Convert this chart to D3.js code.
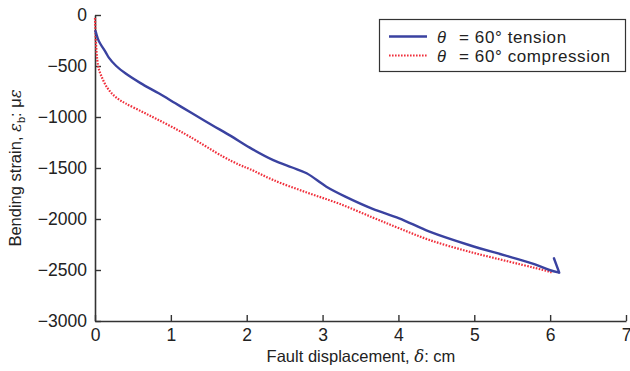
<!DOCTYPE html>
<html>
<head>
<meta charset="utf-8">
<script src="https://cdn.jsdelivr.net/npm/d3@7"></script>
<style>
  html, body { margin: 0; padding: 0; background: #fff; }
  svg { display: block; }
  text { font-family: "Liberation Sans", Arial, sans-serif; fill: #222; }
</style>
</head>
<body>
<svg id="chart" width="630" height="371"></svg>
<script>
// Fault displacement (cm) vs bending strain (microstrain)
const tensionX = [0, 0.01, 0.05, 0.14, 0.18, 0.28, 0.4, 0.6, 0.84, 1.06, 1.28, 1.54, 1.8, 2.04, 2.35, 2.6, 2.79, 3.05, 3.3, 3.66, 4.01, 4.41, 4.93, 5.46, 5.8, 5.99, 6.12, 6.05];
const tensionY = [-150, -167, -255, -363, -415, -500, -572, -668, -768, -866, -964, -1078, -1190, -1300, -1422, -1495, -1552, -1683, -1780, -1900, -1993, -2124, -2255, -2369, -2445, -2500, -2526, -2385];

const compressionX = [0, 0.005, 0.015, 0.03, 0.05, 0.09, 0.15, 0.22, 0.3, 0.4, 0.62, 0.8, 1.01, 1.25, 1.69, 1.91, 2.04, 2.35, 2.79, 3.22, 3.66, 4.01, 4.41, 4.93, 5.46, 5.8, 5.99, 6.02];
const compressionY = [-30, -150, -300, -441, -530, -610, -700, -768, -820, -866, -948, -1015, -1095, -1193, -1389, -1471, -1510, -1618, -1740, -1850, -1985, -2091, -2206, -2320, -2418, -2480, -2516, -2525];

const xTicks = [0, 1, 2, 3, 4, 5, 6, 7];
const yTicks = [0, -500, -1000, -1500, -2000, -2500, -3000];

const svg = d3.select("#chart");
const plotLeft = 95, plotRight = 626, plotTop = 15, plotBottom = 321;

const x = d3.scaleLinear().domain([0, 7]).range([plotLeft, plotRight]);
const y = d3.scaleLinear().domain([-3000, 0]).range([plotBottom, plotTop]);

const axisColor = "#333";
const tickFont = 17.5;

// x axis with inward ticks
const gx = svg.append("g").attr("transform", `translate(0,${plotBottom})`)
  .call(d3.axisBottom(x).tickValues(xTicks).tickSizeInner(-6).tickSizeOuter(0).tickPadding(8).tickFormat(d3.format("d")));
gx.select(".domain").attr("stroke", axisColor).attr("stroke-width", 1.6);
gx.selectAll(".tick line").attr("stroke", axisColor).attr("stroke-width", 1.4);
gx.selectAll(".tick text").attr("font-size", tickFont).attr("font-family", "Liberation Sans, Arial, sans-serif").attr("fill", "#222");

// y axis with inward ticks
const gy = svg.append("g").attr("transform", `translate(${plotLeft},0)`)
  .call(d3.axisLeft(y).tickValues(yTicks).tickSizeInner(-6).tickSizeOuter(0).tickPadding(8)
    .tickFormat(d => d < 0 ? "\u2212" + Math.abs(d) : String(d)));
gy.select(".domain").attr("stroke", axisColor).attr("stroke-width", 1.6);
gy.selectAll(".tick line").attr("stroke", axisColor).attr("stroke-width", 1.4);
gy.selectAll(".tick text").attr("font-size", tickFont).attr("font-family", "Liberation Sans, Arial, sans-serif").attr("fill", "#222");

// series
const tension = d3.zip(tensionX, tensionY);
const compression = d3.zip(compressionX, compressionY);
const smooth = d3.line().x(d => x(d[0])).y(d => y(d[1])).curve(d3.curveCatmullRom.alpha(0.5));
const straight = d3.line().x(d => x(d[0])).y(d => y(d[1]));

svg.append("path").datum(compression)
  .attr("d", smooth)
  .attr("fill", "none").attr("stroke", "#f0303c").attr("stroke-width", 2.2)
  .attr("stroke-dasharray", "1.6,1.4");

// tension: smooth loading branch, then the straight unloading hook at the end
const blue = "#3a42a0";
svg.append("path").datum(tension.slice(0, -1))
  .attr("d", smooth)
  .attr("fill", "none").attr("stroke", blue).attr("stroke-width", 2.4)
  .attr("stroke-linejoin", "round");
svg.append("path").datum(tension.slice(-2))
  .attr("d", straight)
  .attr("fill", "none").attr("stroke", blue).attr("stroke-width", 2.4)
  .attr("stroke-linecap", "round");

// axis titles
const xt = svg.append("text").attr("x", 361).attr("y", 362).attr("text-anchor", "middle").attr("font-size", 16.5);
xt.append("tspan").text("Fault displacement, ");
xt.append("tspan").attr("font-family", "DejaVu Serif, serif").attr("font-style", "italic").text("δ");
xt.append("tspan").text(": cm");

const yt = svg.append("text").attr("transform", "translate(21,168) rotate(-90)").attr("text-anchor", "middle").attr("font-size", 16.5);
yt.append("tspan").text("Bending strain, ");
yt.append("tspan").attr("font-family", "DejaVu Serif, serif").attr("font-style", "italic").text("ε");
yt.append("tspan").attr("font-size", 11).attr("dy", 4).text("b");
yt.append("tspan").attr("dy", -4).text(": μ");
yt.append("tspan").attr("font-family", "DejaVu Serif, serif").attr("font-style", "italic").text("ε");

// legend
const lg = svg.append("g");
lg.append("rect").attr("x", 379.5).attr("y", 19.5).attr("width", 246).attr("height", 52)
  .attr("fill", "#fff").attr("stroke", "#333").attr("stroke-width", 1.2);
const legendItems = [
  { label: "tension", color: blue, dash: null, width: 2.4 },
  { label: "compression", color: "#f0303c", dash: "1.6,1.4", width: 2.2 }
];
legendItems.forEach((it, i) => {
  const cy = 36.5 + i * 19;
  lg.append("line").attr("x1", 389).attr("x2", 427).attr("y1", cy).attr("y2", cy)
    .attr("stroke", it.color).attr("stroke-width", it.width).attr("stroke-dasharray", it.dash);
  lg.append("text").attr("x", 437).attr("y", cy + 6.5).attr("font-size", 16.5)
    .attr("font-family", "DejaVu Serif, serif").attr("font-style", "italic").text("θ");
  lg.append("text").attr("x", 459).attr("y", cy + 6.5).attr("font-size", 17)
    .attr("letter-spacing", 0.6).text("= 60° " + it.label);
});
</script>
</body>
</html>
